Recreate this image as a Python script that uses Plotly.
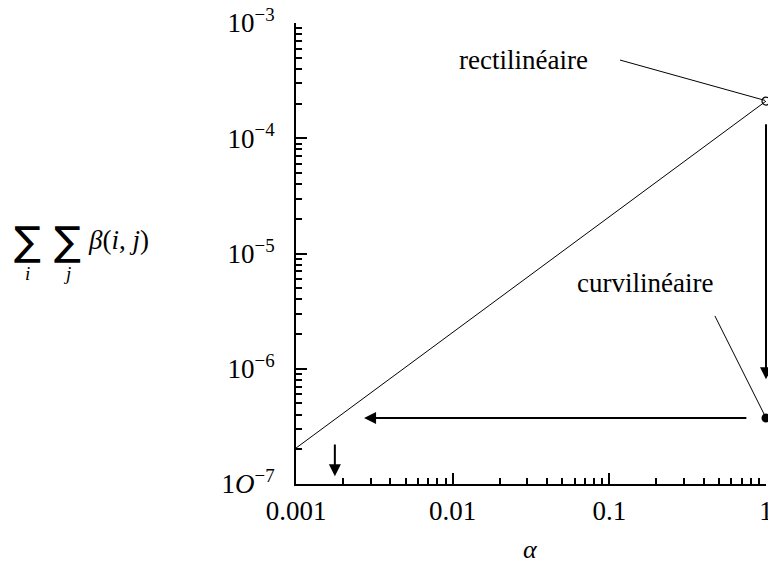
import numpy as np
import plotly.graph_objects as go

# ---- data ----
line_x = [0.001, 1.0]
line_y = [2.05e-7, 2.1e-4]

open_pt = (1.0, 2.1e-4)       # rectilinéaire
filled_pt = (1.0, 3.74e-7)    # curvilinéaire

# arrows: (x_tail, y_tail, x_head, y_head)
arrows = [
    (1.0, 1.36e-4, 1.0, 8.1e-7),
    (0.766, 3.74e-7, 0.00272, 3.74e-7),
    (0.00177, 2.27e-7, 0.00177, 1.17e-7),
]

# leader lines from labels to points
rect_label = ("rectilinéaire", 0.0285, 4.77e-4)
rect_lead = ([0.117, 0.985], [4.77e-4, 2.13e-4])
curv_label = ("curvilinéaire", 0.169, 5.55e-6)
curv_lead = ([0.472, 0.985], [2.87e-6, 3.9e-7])

x_ticks = [0.001, 0.01, 0.1, 1]
x_ticktext = ["0.001", "0.01", "0.1", "1"]
y_ticks = [1e-7, 1e-6, 1e-5, 1e-4, 1e-3]
y_ticktext = ["1<i>O</i><sup>−7</sup>", "10<sup>−6</sup>", "10<sup>−5</sup>",
              "10<sup>−4</sup>", "10<sup>−3</sup>"]

x_minor = [m * 10.0 ** e for e in (-3, -2, -1) for m in range(2, 10)]
y_minor = [m * 10.0 ** e for e in (-7, -6, -5, -4) for m in range(2, 10)]

FONT = "Liberation Serif"

fig = go.Figure()
fig.add_trace(go.Scatter(x=line_x, y=line_y, mode="lines",
                         line=dict(color="black", width=1), showlegend=False))
fig.add_trace(go.Scatter(x=rect_lead[0], y=rect_lead[1], mode="lines",
                         line=dict(color="black", width=1), showlegend=False))
fig.add_trace(go.Scatter(x=curv_lead[0], y=curv_lead[1], mode="lines",
                         line=dict(color="black", width=1), showlegend=False))
fig.add_trace(go.Scatter(x=[open_pt[0]], y=[open_pt[1]], mode="markers",
                         marker=dict(symbol="circle-open", size=8, color="black",
                                     line=dict(width=1.2)),
                         cliponaxis=False, showlegend=False))
fig.add_trace(go.Scatter(x=[filled_pt[0]], y=[filled_pt[1]], mode="markers",
                         marker=dict(symbol="circle", size=9, color="black"),
                         cliponaxis=False, showlegend=False))

for (xt, yt, xh, yh) in arrows:
    fig.add_annotation(x=np.log10(xh), y=np.log10(yh), ax=np.log10(xt), ay=np.log10(yt),
                       xref="x", yref="y", axref="x", ayref="y",
                       showarrow=True, arrowhead=2, arrowsize=1.2, arrowwidth=2,
                       arrowcolor="black", text="")

for (txt, x, y) in (rect_label, curv_label):
    fig.add_annotation(x=np.log10(x), y=np.log10(y), xref="x", yref="y",
                       text=txt, showarrow=False,
                       font=dict(family=FONT, size=27, color="black"))

# y-axis title built from pieces
W, H, L, B = 470.0, 461.0, 296.0, 484.0
def px(xp):
    return (xp - L) / W
def py(yp):
    return (B - yp) / H

for xs, sub in ((27, "i"), (67, "j")):
    fig.add_annotation(x=px(xs), y=py(241), xref="paper", yref="paper",
                       xanchor="center", yanchor="middle",
                       text="∑", showarrow=False,
                       font=dict(family="DejaVu Sans", size=40, color="black"))
    fig.add_annotation(x=px(xs), y=py(273), xref="paper", yref="paper",
                       xanchor="center", yanchor="middle",
                       text="<i>" + sub + "</i>", showarrow=False,
                       font=dict(family=FONT, size=19, color="black"))
fig.add_annotation(x=px(86), y=py(240), xref="paper", yref="paper",
                   xanchor="left", yanchor="middle",
                   text="<i>β</i>(<i>i</i>, <i>j</i>)", showarrow=False,
                   font=dict(family=FONT, size=27, color="black"))
fig.add_annotation(x=px(530), y=py(549), xref="paper", yref="paper",
                   xanchor="center", yanchor="middle",
                   text="<i>α</i>", showarrow=False,
                   font=dict(family=FONT, size=26, color="black"))

fig.update_xaxes(type="log", range=[-3, 0], showline=True, linecolor="black",
                 linewidth=2, showgrid=False, zeroline=False,
                 tickmode="array", tickvals=x_ticks, ticktext=x_ticktext,
                 ticks="inside", ticklen=11, tickwidth=2, tickcolor="black",
                 ticklabelstandoff=2, ticklabeloverflow="allow",
                 minor=dict(tickmode="array", tickvals=x_minor, ticks="inside",
                            ticklen=6, tickwidth=1.5, tickcolor="black", showgrid=False),
                 tickfont=dict(family=FONT, size=27, color="black"))
fig.update_yaxes(type="log", range=[-7, -3], showline=True, linecolor="black",
                 linewidth=2, showgrid=False, zeroline=False,
                 tickmode="array", tickvals=y_ticks, ticktext=y_ticktext,
                 ticks="inside", ticklen=11, tickwidth=2, tickcolor="black",
                 ticklabelstandoff=14, ticklabeloverflow="allow",
                 minor=dict(tickmode="array", tickvals=y_minor, ticks="inside",
                            ticklen=6, tickwidth=1.5, tickcolor="black", showgrid=False),
                 tickfont=dict(family=FONT, size=27, color="black"))

fig.update_layout(width=768, height=563, plot_bgcolor="white", paper_bgcolor="white",
                  margin=dict(l=296, r=2, t=23, b=79, autoexpand=False), showlegend=False)

fig.write_html("out.html", config={"displayModeBar": False},
               post_script="document.body.style.margin='0';document.body.style.overflow='hidden';")
